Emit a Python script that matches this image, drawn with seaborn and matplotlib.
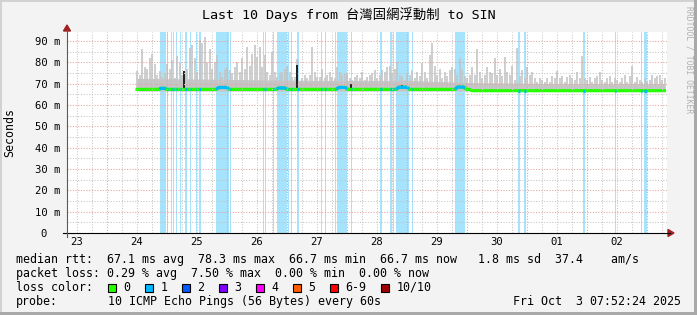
import numpy as np
import pandas as pd
import matplotlib
matplotlib.use("Agg")
import matplotlib.pyplot as plt
from matplotlib.patches import Rectangle, Polygon
from matplotlib.lines import Line2D
import seaborn as sns

MONO = "DejaVu Sans Mono"
CJK = ["DejaVu Sans Mono", "Noto Sans CJK TC"]

# ---------------- data ----------------
title_text = "Last 10 Days from 台灣固網浮動制 to SIN"
y_label = "Seconds"
watermark = "RRDTOOL / TOBI OETIKER"

# time axis in days since 2025-09-23 00:00
x_start = 0.333
x_end = 10.333
day_ticks = [0.5, 1.5, 2.5, 3.5, 4.5, 5.5, 6.5, 7.5, 8.5, 9.5]
day_labels = ["23", "24", "25", "26", "27", "28", "29", "30", "01", "02"]
y_ticks = [0, 10, 20, 30, 40, 50, 60, 70, 80, 90]
y_tick_labels = ["0  ", "10 m", "20 m", "30 m", "40 m", "50 m", "60 m", "70 m", "80 m", "90 m"]

# smoke: hourly maxima (ms), starting Sep 24 12:00
smoke_start = 1.5
smoke_max = [
    76, 74, 86, 78, 77, 82, 84, 79, 74, 76, 73, 75, 79, 77, 81, 72.5, 83, 79.5, 74, 75.5,
    77, 86.5, 88, 82, 75.5, 90.5, 89, 92, 80, 86, 77, 80, 83.5, 75.5, 73, 77, 78, 76.5, 75, 78,
    80, 75.5, 82, 77, 87, 78.5, 84, 88, 82.5, 87, 78, 83.5,
    75.5, 74, 85, 75.5, 73, 75, 75.5, 77, 78.5, 75.5, 73, 73, 81.5, 71, 72.5, 74, 72.5, 74, 87, 75.5,
    73, 73, 77, 72.5, 74, 75.5, 73, 72.5, 78, 75.5, 74, 74.5, 75, 72.5, 71.5, 73, 74, 72.5, 75.5, 71.5,
    73, 74, 75, 76.5, 72.5, 74, 76.5, 75.5, 78, 78.5, 75, 77, 80, 74,
    73.5, 71.5, 75, 74, 76.5, 72.5, 75.5, 73.5, 79.5, 75.5, 72.5, 83.5, 89, 78.5, 74, 77, 72.5, 75.5, 73.5, 76.5,
    78, 77, 74, 82, 77, 73.5, 72.5, 74, 78, 74, 86, 75.5, 72.5, 74, 78, 75.5, 75, 82, 74, 77,
    73.5, 82.5, 75.5, 74, 78.5, 71.5, 86.5, 73.5, 76.5, 72.5, 78, 74, 75.5, 72.5,
    71, 72.5, 71.5, 71, 72.5, 71, 73.5, 72.5, 76, 72.5, 73.5, 71, 73, 74, 72.5, 71.5, 75.5, 72.5, 83, 72.5,
    71.5, 73, 71, 72.5, 73.5, 75.5, 71.5, 71, 72.5, 73.5, 71, 72.5, 71.5, 71, 72.5, 74, 71, 73.5, 78.5, 71,
    73, 71.5, 71, 72.5, 71, 71.5, 74, 72.5, 73.5, 74, 71.5, 72.5,
]
smoke_floor = 66.5
band_t = [1.5, 3.0, 4.5, 6.0, 7.05, 8.5, 10.29]
band_top = [72.5, 72.0, 71.5, 71.5, 70.5, 70.0, 70.0]

# median rtt (ms)
med_t = [1.5, 1.87, 1.89, 1.97, 1.99, 2.82, 2.86, 3.0, 3.04, 3.82, 3.86, 3.97, 4.0,
         4.82, 4.86, 4.98, 5.01, 5.82, 5.86, 6.0, 6.04, 6.8, 6.84, 6.95, 6.99, 7.04, 7.08, 10.29]
med_v = [67.3, 67.3, 67.8, 67.8, 67.3, 67.3, 68.2, 68.2, 67.3, 67.3, 68.0, 68.0, 67.3,
         67.3, 68.2, 68.2, 67.3, 67.3, 68.3, 68.3, 67.3, 67.3, 68.4, 68.4, 67.3, 67.3, 66.7, 66.7]

# loss periods (1/10 loss)
loss_start = [1.875, 2.0, 2.067, 2.092, 2.15, 2.208, 2.3, 2.383, 2.475, 2.525, 2.817, 3.05,
              3.605, 3.633, 3.772, 3.825, 4.017, 4.058, 4.167, 4.558, 4.625, 4.792, 4.828,
              5.067, 5.55, 5.717, 5.767, 5.817, 6.075, 6.8, 7.85, 7.95, 8.928, 9.467, 9.9, 9.955]
loss_end = [1.983, 2.017, 2.083, 2.108, 2.167, 2.225, 2.328, 2.4, 2.5, 2.567, 3.033, 3.067,
            3.622, 3.65, 3.788, 3.992, 4.033, 4.075, 4.192, 4.575, 4.65, 4.817, 5.005,
            5.083, 5.578, 5.745, 5.783, 6.033, 6.095, 6.967, 7.883, 7.983, 8.962, 9.488, 9.922, 9.995]

# dark smoke columns
dark_t = [2.285, 4.16, 5.065, 5.92]
dark_lo = [67.0, 67.0, 67.0, 67.4]
dark_hi = [76.1, 78.7, 69.7, 69.4]

legend_row1 = "median rtt:  67.1 ms avg  78.3 ms max  66.7 ms min  66.7 ms now   1.8 ms sd  37.4    am/s"
legend_row2 = "packet loss: 0.29 % avg  7.50 % max  0.00 % min  0.00 % now"
legend_row3 = "loss color:"
loss_labels = ["0", "1", "2", "3", "4", "5", "6-9", "10/10"]
loss_colors = ["#26ff00", "#00b8ff", "#0059ff", "#7e00ff", "#ff00ff", "#ff5e00", "#ff0000", "#a00000"]
probe_label = "probe:"
probe_text = "10 ICMP Echo Pings (56 Bytes) every 60s"
date_text = "Fri Oct  3 07:52:24 2025"

# ---------------- figure ----------------
W, H = 697, 315
fig = plt.figure(figsize=(W / 100, H / 100), dpi=100)
fig.patch.set_facecolor("#f3f3f3")


def fx(px):
    return px / W


def fy(py):
    return 1 - py / H


ax = fig.add_axes([fx(67), fy(233), 600 / W, 201 / H])
ax.set_facecolor("white")
for s in ax.spines.values():
    s.set_visible(False)
ax.set_xlim(x_start, x_end)
ax.set_ylim(0, 94.2)

# loss background bars
for s, e in zip(loss_start, loss_end):
    ax.axvspan(s, e, color="#a6e3fc", lw=0, zorder=1)

# smoke
smoke_t = smoke_start + np.arange(len(smoke_max)) / 24.0
ax.fill_between(band_t, smoke_floor, band_top, color="#c8c8c8", lw=0, zorder=2)
ax.vlines(smoke_t, smoke_floor, smoke_max, color="#c4c4c4", lw=1.15, zorder=2)
ax.vlines(dark_t, dark_lo, dark_hi, color="#1e1e1e", lw=1.4, zorder=3)

# median line
df = pd.DataFrame({"t": med_t, "ms": med_v})
sns.lineplot(data=df, x="t", y="ms", ax=ax, color="#26ff00", lw=2.3,
             estimator=None, sort=False, zorder=4)
for s, e in zip(loss_start, loss_end):
    tt = np.linspace(s, e, 6)
    ax.plot(tt, np.interp(tt, med_t, med_v), color="#00b8ff", lw=2.3,
            solid_capstyle="butt", zorder=5)

# grid (dotted, over data like rrdtool)
dots = (0, (1, 1.6))
for y in np.arange(5, 90, 10):
    ax.axhline(y, color="#c4c4c4", lw=0.75, ls=dots, zorder=6)
for y in np.arange(10, 91, 10):
    ax.axhline(y, color="#e8a0a0", lw=0.75, ls=dots, zorder=6)
for x in np.arange(0.25, 10.5, 0.25):
    if x_start < x < x_end and abs(x - round(x)) > 1e-6:
        ax.axvline(x, color="#c4c4c4", lw=0.75, ls=dots, zorder=6)
for x in range(1, 11):
    ax.axvline(x, color="#e8a0a0", lw=0.75, ls=dots, zorder=6)

ax.set_xlabel("")
ax.set_ylabel("")
ax.set_xticks(day_ticks)
ax.set_xticklabels(day_labels, fontfamily=MONO, fontsize=7.6)
ax.set_yticks(y_ticks)
ax.set_yticklabels(y_tick_labels, fontfamily=MONO, fontsize=7.6)
ax.tick_params(axis="x", length=0, pad=3.2, colors="black")
ax.tick_params(axis="y", length=0, pad=5.0, colors="black")

# axes lines + arrows
fig.add_artist(Line2D([fx(63), fx(670)], [fy(233), fy(233)], color="black", lw=0.8))
fig.add_artist(Line2D([fx(67), fx(67)], [fy(237), fy(30)], color="#5a5a5a", lw=0.8))
fig.add_artist(Polygon([(fx(668), fy(229.5)), (fx(668), fy(236.5)), (fx(674), fy(233))],
                       closed=True, color="#a02020", transform=fig.transFigure))
fig.add_artist(Polygon([(fx(63.5), fy(31)), (fx(70.5), fy(31)), (fx(67), fy(25))],
                       closed=True, color="#a02020", transform=fig.transFigure))

# titles
fig.text(0.5, fy(15), title_text, ha="center", va="center", fontsize=9.6, family=CJK)
fig.text(fx(10), fy(132), y_label, rotation=90, ha="center", va="center", fontsize=8.4, family=MONO)
fig.text(fx(689), fy(60), watermark, rotation=-90, ha="center", va="center", fontsize=5.8,
         family=MONO, color="#b0b0b0")

# legend
fig.text(fx(16), fy(259.5), legend_row1, ha="left", va="center", fontsize=8.4, family=MONO)
fig.text(fx(16), fy(273.5), legend_row2, ha="left", va="center", fontsize=8.4, family=MONO)
fig.text(fx(16), fy(287.5), legend_row3, ha="left", va="center", fontsize=8.4, family=MONO)
bx = 108
for lab, col in zip(loss_labels, loss_colors):
    fig.add_artist(Rectangle((fx(bx), fy(291.5)), 8 / W, 8 / H, facecolor=col, edgecolor="black",
                             lw=0.8, transform=fig.transFigure))
    fig.text(fx(bx + 15.5), fy(287.5), lab, ha="left", va="center", fontsize=8.4, family=MONO)
    bx += 30 + 7 * len(lab)
fig.text(fx(16), fy(301.5), probe_label, ha="left", va="center", fontsize=8.4, family=MONO)
fig.text(fx(107.5), fy(301.5), probe_text, ha="left", va="center", fontsize=8.4, family=MONO)
fig.text(fx(681), fy(301.5), date_text, ha="right", va="center", fontsize=8.4, family=MONO)

# frame
fig.add_artist(Rectangle((0, fy(2)), 1, 2 / H, facecolor="#d2d2d2", lw=0, transform=fig.transFigure))
fig.add_artist(Rectangle((0, 0), 2 / W, 1, facecolor="#d2d2d2", lw=0, transform=fig.transFigure))
fig.add_artist(Rectangle((fx(694), 0), 3 / W, 1, facecolor="#a9a9a9", lw=0, transform=fig.transFigure))
fig.add_artist(Rectangle((0, 0), 1, 3 / H, facecolor="#a9a9a9", lw=0, transform=fig.transFigure))

fig.savefig("out.png", dpi=100, facecolor=fig.get_facecolor())
